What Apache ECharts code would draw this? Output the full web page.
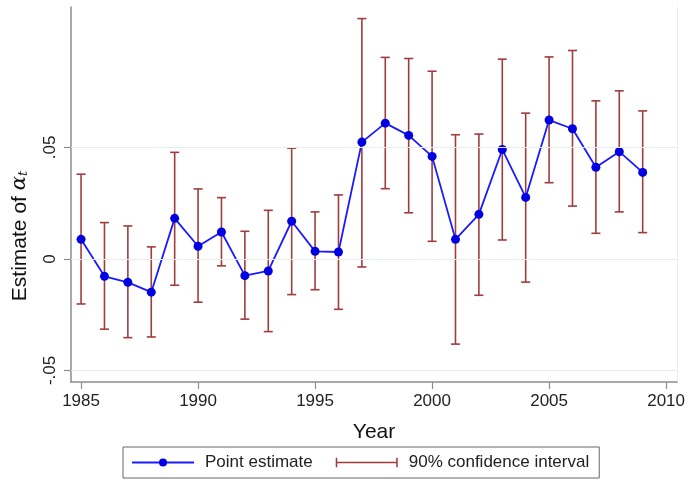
<!DOCTYPE html>
<html><head><meta charset="utf-8">
<script src="https://cdn.jsdelivr.net/npm/echarts@6/dist/echarts.min.js"></script>
<style>html,body{margin:0;padding:0;background:#fff}#c{width:688px;height:480px}</style>
</head><body><div id="c"></div>
<script>
const years = [1985,1986,1987,1988,1989,1990,1991,1992,1993,1994,1995,1996,1997,1998,1999,2000,2001,2002,2003,2004,2005,2006,2007,2008,2009];
const estimates = [0.0088,-0.0078,-0.0105,-0.0149,0.0182,0.0057,0.0121,-0.0075,-0.0054,0.0169,0.0034,0.0031,0.0524,0.0609,0.0554,0.0460,0.0088,0.0200,0.0491,0.0276,0.0623,0.0584,0.0411,0.0481,0.0388];
const ciLower = [-0.0202,-0.0315,-0.0353,-0.0350,-0.0118,-0.0194,-0.0031,-0.0270,-0.0326,-0.0160,-0.0138,-0.0226,-0.0036,0.0315,0.0207,0.0079,-0.0382,-0.0163,0.0085,-0.0104,0.0342,0.0237,0.0115,0.0211,0.0118];
const ciUpper = [0.0380,0.0163,0.0148,0.0054,0.0478,0.0314,0.0275,0.0124,0.0218,0.0497,0.0211,0.0287,0.1078,0.0904,0.0899,0.0842,0.0557,0.0560,0.0896,0.0654,0.0906,0.0935,0.0709,0.0754,0.0664];
const xTicks = [1985,1990,1995,2000,2005,2010];
const yTicks = [-0.05,0,0.05];

const font = "'Liberation Sans', Arial, sans-serif";
const ciColor = '#a03c3c';
const lineColor = '#1a1aff';
const axisColor = '#8c8c8c';
const gridColor = '#e6ecef';
const yMin = -0.0552, yMax = 0.113;
const xMin = 1984.57, xMax = 2010.47;

const chart = echarts.init(document.getElementById('c'), null, {renderer: 'canvas'});
const fmtY = v => v === 0 ? '0' : (v < 0 ? '-' : '') + Math.abs(v).toFixed(2).replace(/^0/, '');

chart.setOption({
  animation: false,
  backgroundColor: '#fff',
  textStyle: {fontFamily: font},
  grid: {left: 71, right: 9, top: 7, bottom: 98},
  xAxis: {
    type: 'value', min: xMin, max: xMax,
    name: 'Year', nameLocation: 'middle', nameGap: 40,
    nameTextStyle: {fontSize: 21, color: '#111', fontFamily: font},
    axisLine: {onZero: false, lineStyle: {color: axisColor, width: 1.5}},
    axisTick: {show: true, length: 7, lineStyle: {color: axisColor, width: 1.2}, customValues: xTicks},
    axisLabel: {fontSize: 17, color: '#222', margin: 11, customValues: xTicks, formatter: v => String(v)},
    splitLine: {show: false}
  },
  yAxis: [{
    type: 'value', min: yMin, max: yMax,
    axisLine: {show: true, onZero: false, lineStyle: {color: axisColor, width: 1.5}},
    axisTick: {show: true, length: 7, lineStyle: {color: axisColor, width: 1.2}, customValues: yTicks},
    axisLabel: {fontSize: 17, color: '#222', rotate: 90, margin: 12, customValues: yTicks, formatter: fmtY},
    splitLine: {show: false}
  }, {
    type: 'value', min: yMin, max: yMax, position: 'right',
    axisLine: {show: true, onZero: false, lineStyle: {color: gridColor, width: 1}},
    axisTick: {show: false}, axisLabel: {show: false}, splitLine: {show: false}
  }],
  legend: {
    left: 123, top: 447,
    orient: 'horizontal',
    borderColor: '#666', borderWidth: 1, borderRadius: 0,
    padding: [7, 10, 7, 8],
    itemGap: 23, itemWidth: 62, itemHeight: 10,
    textStyle: {fontSize: 17, color: '#222', fontFamily: font, padding: [0, 0, 0, 6]},
    data: [
      {name: 'Point estimate'},
      {name: '90% confidence interval', icon: 'path://M0,0h1.6v10h-1.6zM0,4.3h64v1.4h-64zM62.4,0h1.6v10h-1.6z'}
    ]
  },
  graphic: [{
    type: 'text', x: 20, y: 236, rotation: Math.PI / 2,
    style: {
      text: '{n|Estimate of }{a|α}{s|t}',
      align: 'center', verticalAlign: 'middle',
      rich: {
        n: {fontSize: 21, fontFamily: font, fill: '#111'},
        a: {fontSize: 21, fontFamily: "'DejaVu Serif', serif", fontStyle: 'italic', fill: '#111'},
        s: {fontSize: 13, fontFamily: "'DejaVu Serif', serif", fontStyle: 'italic', fill: '#111', verticalAlign: 'bottom', padding: [8, 0, 0, 0]}
      }
    }
  }],
  series: [{
    name: 'grid', type: 'line', data: [], silent: true,
    markLine: {
      silent: true, symbol: 'none', label: {show: false},
      lineStyle: {color: gridColor, width: 1, type: 'solid'},
      data: yTicks.map(v => ({yAxis: v}))
    }
  }, {
    name: '90% confidence interval', type: 'custom', z: 2,
    itemStyle: {color: ciColor},
    encode: {x: 0, y: [1, 2]},
    data: years.map((y, i) => [y, ciLower[i], ciUpper[i]]),
    renderItem: function (params, api) {
      const x = api.value(0);
      const lo = api.coord([x, api.value(1)]);
      const hi = api.coord([x, api.value(2)]);
      const w = 4.5;
      const st = {stroke: ciColor, lineWidth: 1.6, fill: null};
      return {type: 'group', children: [
        {type: 'line', shape: {x1: lo[0], y1: lo[1], x2: hi[0], y2: hi[1]}, style: st},
        {type: 'line', shape: {x1: lo[0] - w, y1: lo[1], x2: lo[0] + w, y2: lo[1]}, style: st},
        {type: 'line', shape: {x1: hi[0] - w, y1: hi[1], x2: hi[0] + w, y2: hi[1]}, style: st}
      ]};
    }
  }, {
    name: 'Point estimate', type: 'line', z: 3,
    data: years.map((y, i) => [y, estimates[i]]),
    symbol: 'circle', symbolSize: 9,
    lineStyle: {color: lineColor, width: 1.8},
    itemStyle: {color: '#0000e0', borderWidth: 0}
  }]
});
</script>
</body></html>
